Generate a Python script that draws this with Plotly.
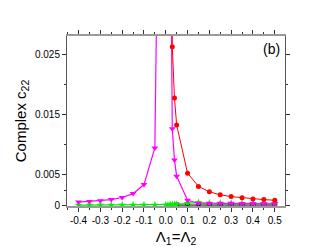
import plotly.graph_objects as go

# Data
mag_x = [-0.4, -0.35, -0.3, -0.25, -0.2, -0.15, -0.1, -0.05, 0.0, 0.03, 0.04, 0.05, 0.1, 0.15, 0.2, 0.25, 0.3, 0.35, 0.4, 0.45, 0.5]
mag_y = [0.0005, 0.0006, 0.0007, 0.0009, 0.00125, 0.0019, 0.0034, 0.0095, 0.15, 0.0127, 0.0075, 0.0048, 0.0008, 0.0003, 0.0003, 0.0003, 0.0003, 0.00025, 0.00025, 0.0002, 0.0002]

red_x = [0.02, 0.03, 0.04, 0.05, 0.1, 0.15, 0.2, 0.25, 0.3, 0.35, 0.4, 0.45, 0.5]
red_y = [0.5, 0.0263, 0.0178, 0.0133, 0.0053, 0.0031, 0.0022, 0.0017, 0.0014, 0.0012, 0.001, 0.0009, 0.0008]

grn_x = [-0.4, -0.35, -0.3, -0.25, -0.2, -0.15, -0.1, -0.05, 0.0, 0.01, 0.02, 0.03, 0.04, 0.05, 0.1, 0.15, 0.2, 0.25, 0.3, 0.35, 0.4, 0.45, 0.5]
grn_y = [0.0, 0.0, 0.0, 0.0, 0.0, 0.0, 0.0, 0.0, 0.0, 0.0, 0.0001, 0.0001, 0.0001, 0.0001, 0.0003, 0.0004, 0.0003, 0.0003, 0.0003, 0.0003, 0.0003, 0.0003, 0.0003]

blk_x = [0.05, 0.1, 0.15, 0.2, 0.25, 0.3, 0.35, 0.4, 0.45, 0.5]
blk_y = [0.0, 0.0, 0.0, 0.0, 0.0, 0.0, 0.0, 0.0, 0.0, 0.0]

ytick_vals = [0, 0.005, 0.015, 0.025]
ytick_text = ["0", "0.005", "0.015", "0.025"]
xtick_vals = [-0.4, -0.3, -0.2, -0.1, 0.0, 0.1, 0.2, 0.3, 0.4, 0.5]
xtick_text = ["-0.4", "-0.3", "-0.2", "-0.1", "0.0", "0.1", "0.2", "0.3", "0.4", "0.5"]

fig = go.Figure()
fig.add_trace(go.Scatter(x=blk_x, y=blk_y, mode="lines+markers",
                         line=dict(color="black", width=1),
                         marker=dict(symbol="square", size=5, color="black")))
fig.add_trace(go.Scatter(x=grn_x, y=grn_y, mode="lines+markers",
                         line=dict(color="#00ee00", width=1.2),
                         marker=dict(symbol="star", size=6, color="#00ee00")))
fig.add_trace(go.Scatter(x=mag_x, y=mag_y, mode="lines+markers",
                         line=dict(color="#ff00ff", width=1.2),
                         marker=dict(symbol="triangle-down", size=6, color="#ff00ff")))
fig.add_trace(go.Scatter(x=red_x, y=red_y, mode="lines+markers",
                         line=dict(color="#ff0000", width=1),
                         marker=dict(symbol="circle", size=5, color="#ff0000")))

fig.add_annotation(x=0.985, y=0.925, xref="paper", yref="paper", text="(b)",
                   showarrow=False, xanchor="right", yanchor="middle",
                   font=dict(family="Arial, Liberation Sans", size=14, color="black"))

fig.update_layout(
    width=322, height=247,
    margin=dict(l=56, r=45, t=28, b=44),
    paper_bgcolor="white", plot_bgcolor="white",
    showlegend=False,
    font=dict(family="Arial, Liberation Sans", size=10, color="black"),
    xaxis=dict(range=[-0.453, 0.547], tickvals=xtick_vals, ticktext=xtick_text,
               ticks="outside", ticklen=4, tickcolor="#333", showgrid=False, zeroline=False,
               showline=True, linecolor="#999", linewidth=2, mirror="ticks",
               minor=dict(ticks="outside", ticklen=2, dtick=0.05, tickcolor="#333"),
               title=dict(text="Λ<sub>1</sub>=Λ<sub>2</sub>", standoff=6,
                          font=dict(family="Arial, Liberation Sans", size=15))),
    yaxis=dict(range=[-0.00016, 0.0281], tickvals=ytick_vals, ticktext=ytick_text,
               ticks="outside", ticklen=4, tickcolor="#333", showgrid=False, zeroline=False,
               showline=True, linecolor="#555", linewidth=1, mirror="ticks",
               minor=dict(ticks="outside", ticklen=2, tickvals=[0.0025, 0.01, 0.02], tickcolor="#333"),
               title=dict(text="Complex c<sub>22</sub>", standoff=4,
                          font=dict(family="Arial, Liberation Sans", size=15))),
)

fig.write_html("out.html")
